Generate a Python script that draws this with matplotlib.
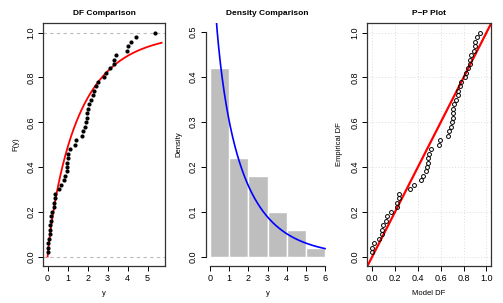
import numpy as np
import matplotlib
matplotlib.use('Agg')
import matplotlib.pyplot as plt

plt.rcParams['font.family'] = ['Liberation Sans', 'DejaVu Sans']

# observed sample (read from the empirical DF), 50 values
y_obs = [0.00, 0.00, 0.01, 0.07, 0.10, 0.10, 0.12, 0.15, 0.17, 0.22,
         0.32, 0.32, 0.35, 0.35, 0.57, 0.65, 0.80, 0.87, 0.95, 0.98,
         0.99, 1.01, 1.02, 1.10, 1.35, 1.42, 1.72, 1.78, 1.87, 1.93,
         1.97, 1.98, 2.02, 2.05, 2.15, 2.28, 2.33, 2.43, 2.50, 2.80,
         2.90, 3.12, 3.30, 3.33, 3.42, 3.97, 4.03, 4.15, 4.42, 5.37]

# fitted model (Weibull)
shape = 0.88
scale = 1.58
hist_bins = [0, 1, 2, 3, 4, 5, 6]

def model_cdf(x):
    return 1 - np.exp(-(np.asarray(x) / scale) ** shape)

def model_pdf(x):
    x = np.asarray(x)
    return shape / scale * (x / scale) ** (shape - 1) * np.exp(-(x / scale) ** shape)

y_sorted = np.sort(y_obs)
n = len(y_sorted)
ecdf = np.arange(1, n + 1) / n

fig = plt.figure(figsize=(5.03, 3.03), dpi=100)
W, H = 503, 303

def add_ax(x0, x1, y0, y1):
    return fig.add_axes([x0 / W, (H - y1) / H, (x1 - x0) / W, (y1 - y0) / H])

tick_fs = 6.5
lab_fs = 5.5
title_fs = 6
box_col = '#333333'

def style(ax, box=True):
    ax.tick_params(direction='out', length=3.5, width=0.7, labelsize=tick_fs,
                   pad=2, colors='black')
    for lab in ax.get_yticklabels():
        lab.set_rotation(90)
        lab.set_va('center')
    for s in ax.spines.values():
        s.set_linewidth(0.9)
        s.set_color(box_col)

# ---- DF Comparison ----
ax1 = add_ax(43, 165, 23, 266)
ax1.axhline(0, color='#bbbbbb', ls=(0, (3, 3)), lw=0.8)
ax1.axhline(1, color='#bbbbbb', ls=(0, (3, 3)), lw=0.8)
xc = np.linspace(0, 5.7, 300)
ax1.plot(xc, model_cdf(xc), color='red', lw=1.3)
ax1.plot(y_sorted, ecdf, 'o', color='black', ms=3.0, mew=0)
ax1.set_xlim(-0.23, 5.87)
ax1.set_ylim(-0.042, 1.043)
ax1.set_xticks(range(0, 6))
ax1.set_yticks(np.arange(0, 1.01, 0.2))
ax1.set_yticklabels(['0.0', '0.2', '0.4', '0.6', '0.8', '1.0'])
style(ax1)
ax1.set_title('DF Comparison', fontsize=title_fs, fontweight='bold', pad=6)
ax1.set_xlabel('y', fontsize=lab_fs, labelpad=5)
ax1.set_ylabel('F(y)', fontsize=lab_fs, labelpad=5)

# ---- Density Comparison ----
ax2 = add_ax(205.5, 329.6, 23, 266)
ax2.hist(y_sorted, bins=hist_bins, density=True, color='#bebebe',
         edgecolor='white', lw=1.0)
xd = np.linspace(0.01, 6, 400)
ax2.plot(xd, model_pdf(xd), color='blue', lw=1.2)
ax2.set_xlim(-0.24, 6.24)
ax2.set_ylim(-0.02, 0.52)
ax2.set_xticks(range(0, 7))
ax2.set_yticks(np.arange(0, 0.51, 0.1))
ax2.set_yticklabels(['0.0', '0.1', '0.2', '0.3', '0.4', '0.5'])
ax2.spines['top'].set_visible(False)
ax2.spines['right'].set_visible(False)
ax2.spines['left'].set_bounds(0, 0.5)
ax2.spines['bottom'].set_bounds(0, 6)
style(ax2)
ax2.set_title('Density Comparison', fontsize=title_fs, fontweight='bold', pad=6)
ax2.set_xlabel('y', fontsize=lab_fs, labelpad=5)
ax2.set_ylabel('Density', fontsize=lab_fs, labelpad=5)

# ---- P-P Plot ----
ax3 = add_ax(367, 491, 23, 266)
for v in np.arange(0, 1.01, 0.2):
    ax3.axhline(v, color='#dddddd', ls=(0, (1, 2)), lw=0.7, zorder=0)
    ax3.axvline(v, color='#dddddd', ls=(0, (1, 2)), lw=0.7, zorder=0)
ax3.plot([-0.1, 1.1], [-0.1, 1.1], color='red', lw=1.6)
ax3.plot(model_cdf(y_sorted), ecdf, 'o', mfc='none', mec='black', ms=2.8, mew=0.7)
ax3.set_xlim(-0.046, 1.04)
ax3.set_ylim(-0.042, 1.043)
ax3.set_xticks(np.arange(0, 1.01, 0.2))
ax3.set_xticklabels(['0.0', '0.2', '0.4', '0.6', '0.8', '1.0'])
ax3.set_yticks(np.arange(0, 1.01, 0.2))
ax3.set_yticklabels(['0.0', '0.2', '0.4', '0.6', '0.8', '1.0'])
style(ax3)
ax3.set_title('P\u2212P Plot', fontsize=title_fs, fontweight='bold', pad=6)
ax3.set_xlabel('Model DF', fontsize=lab_fs, labelpad=5)
ax3.set_ylabel('Empirical DF', fontsize=lab_fs, labelpad=5)

fig.savefig('out.png', dpi=100)
